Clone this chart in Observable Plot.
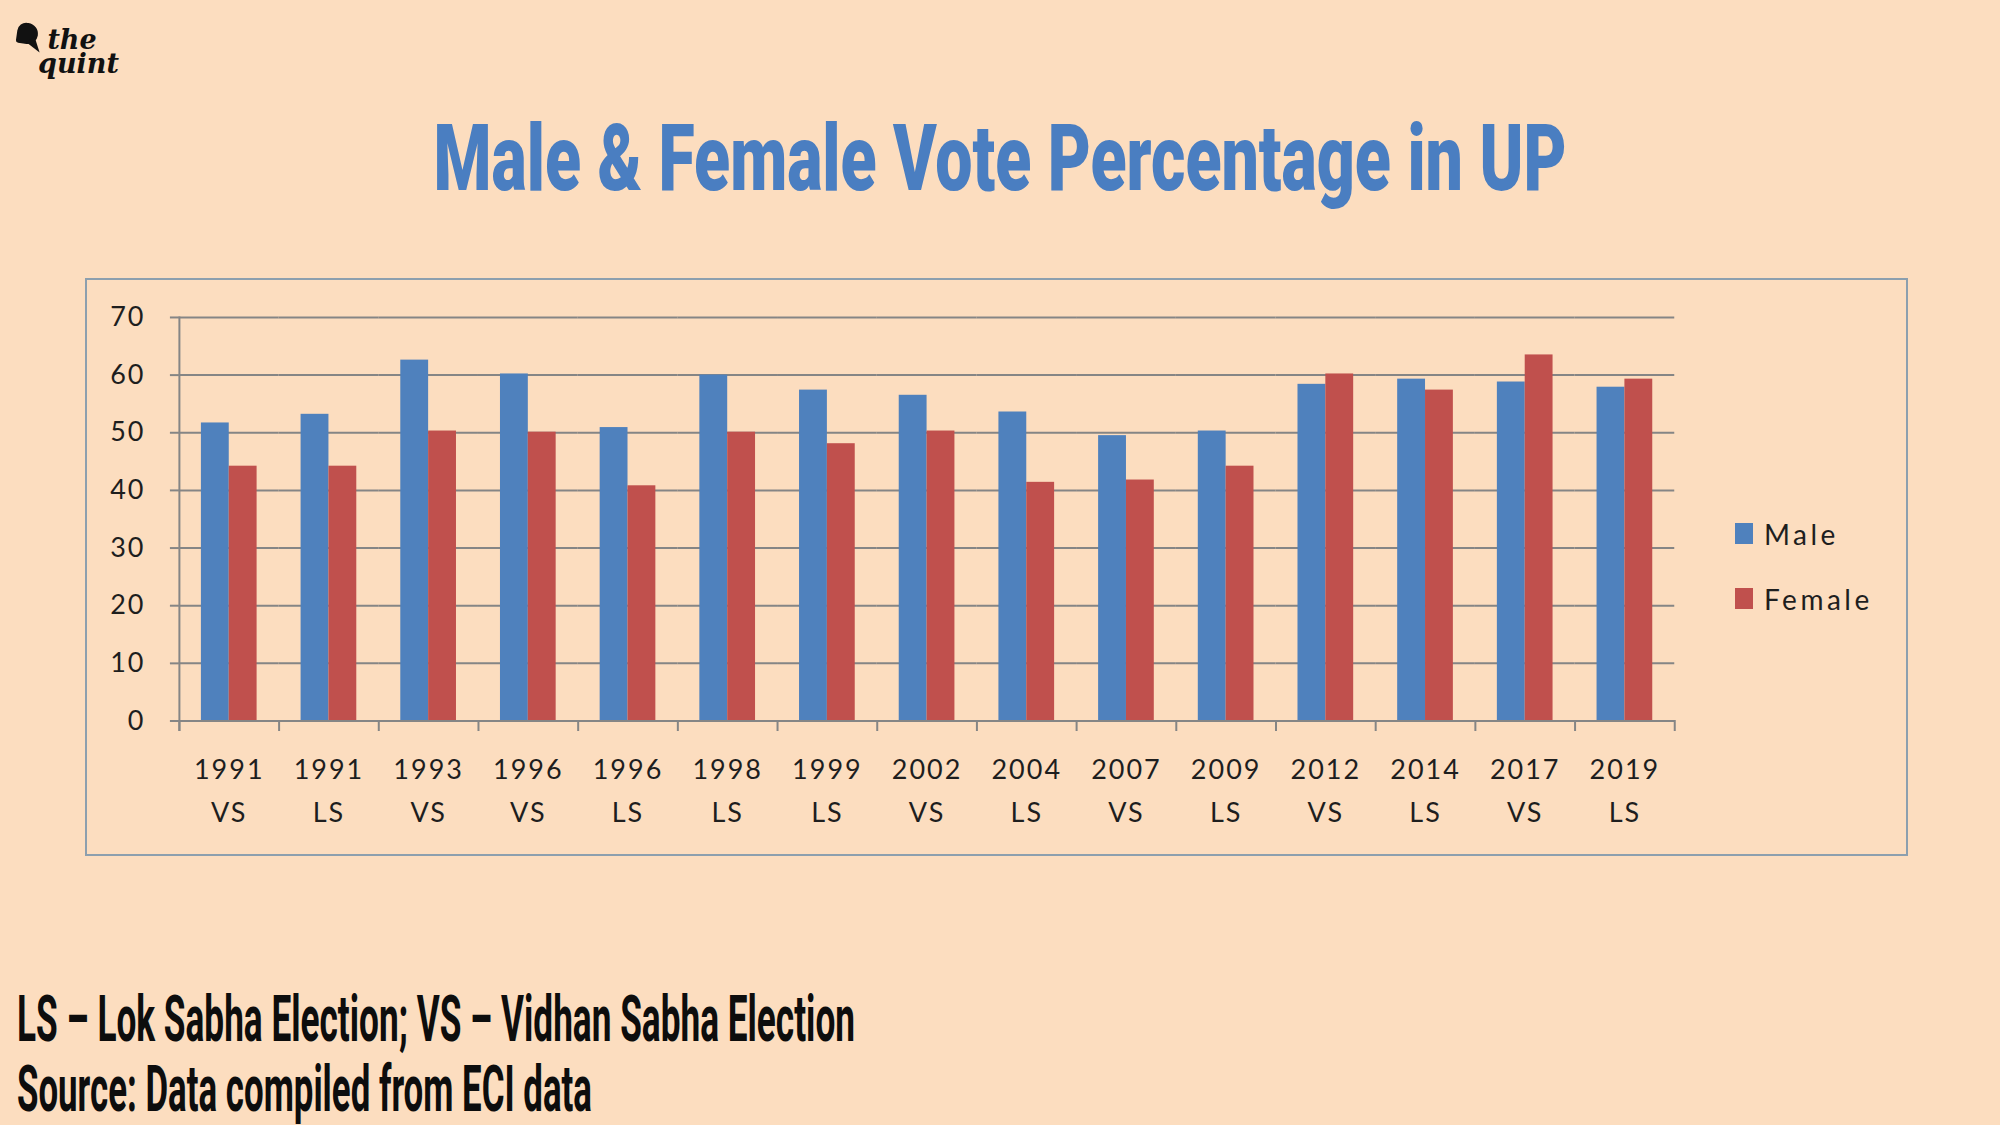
<!DOCTYPE html>
<html>
<head>
<meta charset="utf-8">
<script src="https://cdn.jsdelivr.net/npm/d3@7"></script>
<script src="https://cdn.jsdelivr.net/npm/@observablehq/plot@0.6"></script>
<style>
  html, body { margin: 0; padding: 0; }
  body { width: 2000px; height: 1125px; background: #FCDDBF; position: relative; overflow: hidden; font-family: Lato, "Noto Sans", sans-serif; }
  #logo { position: absolute; left: 17px; top: 20px; width: 110px; height: 70px; }
  #bubble { position: absolute; left: 0px; top: 3px; width: 21px; height: 21px; background: #111; border-radius: 45% 55% 50% 12%; transform: rotate(8deg); }
  #bubbleTail { position: absolute; left: 13px; top: 18px; width: 0; height: 0; border-left: 5px solid transparent; border-right: 5px solid transparent; border-top: 16px solid #111; transform: rotate(-35deg); }
  #logoText { position: absolute; left: 21px; top: 8px; font-family: "DejaVu Serif", "Liberation Serif", serif; font-style: italic; font-weight: bold; color: #111; font-size: 27px; line-height: 24px; white-space: pre; }
  #title { position: absolute; top: 112px; left: 0; width: 2000px; text-align: center; }
  #title span { display: inline-block; font-family: Roboto, "Liberation Sans", sans-serif; font-weight: 900; font-size: 93px; line-height: 1; color: #4A7EC1; transform-origin: center; white-space: nowrap; }
  #box { position: absolute; left: 85px; top: 278px; width: 1819px; height: 574px; border: 2px solid #8C9FAE; }
  #chart { position: absolute; left: -2px; top: -2px; }
  #legend { position: absolute; left: 1735px; top: 0; }
  .lg { position: absolute; left: 0; white-space: nowrap; font-family: Lato, sans-serif; font-size: 28px; letter-spacing: 3.5px; color: #1e1e1e; line-height: 1; }
  .sw { position: absolute; left: 0; width: 18px; height: 21px; }
  .foot { position: absolute; left: 17px; font-family: Roboto, "Liberation Sans", sans-serif; font-weight: bold; font-size: 64px; line-height: 0.8; color: #0d0d0d; white-space: nowrap; transform-origin: left center; }
</style>
</head>
<body>
<div id="logo">
  <div id="bubble"></div><div id="bubbleTail"></div>
  <div id="logoText"> the
quint</div>
</div>
<div id="title"><span id="titleText">Male &amp; Female Vote Percentage in UP</span></div>
<div id="box"><div id="chart"></div></div>
<div id="legend"></div>
<div class="foot" id="foot1" style="top:994px;">LS – Lok Sabha Election; VS – Vidhan Sabha Election</div>
<div class="foot" id="foot2" style="top:1064px;">Source: Data compiled from ECI data</div>
<script>
// ---- data ----
const years = ["1991", "1991", "1993", "1996", "1996", "1998", "1999", "2002", "2004", "2007", "2009", "2012", "2014", "2017", "2019"];
const electionTypes = ["VS", "LS", "VS", "VS", "LS", "LS", "LS", "VS", "LS", "VS", "LS", "VS", "LS", "VS", "LS"];
const maleVotes = [51.7, 53.2, 62.6, 60.2, 50.9, 60.0, 57.4, 56.5, 53.6, 49.5, 50.3, 58.4, 59.3, 58.8, 57.9];
const femaleVotes = [44.2, 44.2, 50.3, 50.1, 40.8, 50.1, 48.1, 50.3, 41.4, 41.8, 44.2, 60.2, 57.4, 63.5, 59.3];
const seriesNames = ["Male", "Female"];
const seriesColors = ["#4F81BD", "#C0504D"];
const yTicks = [0, 10, 20, 30, 40, 50, 60, 70];

const keys = years.map((y, i) => `${y} ${electionTypes[i]}`);
const data = [];
keys.forEach((k, i) => {
  data.push({key: k, sex: "Male", value: maleVotes[i]});
  data.push({key: k, sex: "Female", value: femaleVotes[i]});
});

const W = 1823, H = 578, mL = 94, mR = 232, mT = 39, mB = 135;
const innerH = H - mT - mB;
const lineColor = "#858585";

const plot = Plot.plot({
  width: W, height: H,
  marginLeft: mL, marginRight: mR, marginTop: mT, marginBottom: mB,
  style: {background: "transparent", fontFamily: "Lato, 'Noto Sans', sans-serif", fontSize: "27px", letterSpacing: "2px", color: "#1e1e1e", overflow: "visible"},
  fx: {domain: keys, padding: 0, round: false, label: null},
  x: {domain: seriesNames, paddingInner: 0, paddingOuter: 0.79, round: false, axis: null},
  y: {domain: [0, 70], label: null},
  color: {domain: seriesNames, range: seriesColors},
  marks: [
    Plot.gridY(yTicks, {stroke: lineColor, strokeOpacity: 1, strokeWidth: 2}),
    Plot.barY(data, {fx: "key", x: "sex", y: "value", fill: "sex"}),
    Plot.ruleY([0], {stroke: lineColor, strokeWidth: 2}),
    Plot.frame({anchor: "left", facetAnchor: "left", stroke: lineColor, strokeWidth: 2, insetBottom: -9}),
    Plot.frame({anchor: "left", stroke: lineColor, strokeWidth: 2, insetTop: innerH, insetBottom: -9}),
    Plot.frame({anchor: "right", facetAnchor: "right", stroke: lineColor, strokeWidth: 2, insetTop: innerH, insetBottom: -9}),
    Plot.axisY(yTicks, {tickSize: 9, tickPadding: 25, stroke: lineColor, strokeWidth: 2, fontSize: 27, fill: "#1e1e1e", label: null}),
    Plot.axisFx({anchor: "bottom", tickSize: 0, tickPadding: 27, fontSize: 27, fill: "#1e1e1e", lineHeight: 1.6, label: null,
                 tickFormat: d => d.replace(" ", "\n")})
  ]
});
document.getElementById("chart").appendChild(plot);

// legend from the color scale
const color = plot.scale("color");
const legend = document.getElementById("legend");
color.domain.forEach((name, i) => {
  const top = 523 + i * 65;
  const sw = document.createElement("div");
  sw.className = "sw"; sw.style.top = top + "px"; sw.style.background = color.range[i];
  legend.appendChild(sw);
  const lb = document.createElement("div");
  lb.className = "lg"; lb.style.left = "29px"; lb.style.top = (top - 3) + "px"; lb.textContent = name;
  legend.appendChild(lb);
});

// fit condensed-looking text widths
function fitWidth(el, target, origin) {
  const w = el.getBoundingClientRect().width;
  el.style.transformOrigin = origin;
  el.style.transform = `scaleX(${target / w})`;
}
fitWidth(document.getElementById("titleText"), 1133, "center");
fitWidth(document.getElementById("foot1"), 838, "left center");
fitWidth(document.getElementById("foot2"), 575, "left center");
</script>
</body>
</html>
